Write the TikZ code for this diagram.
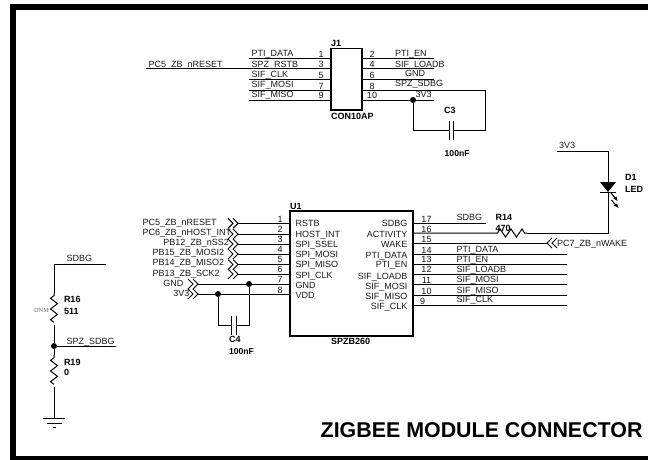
\documentclass[tikz,border=0pt]{standalone}
\usepackage{fontspec}
\setmainfont{Liberation Sans}
\newfontfamily\dnmfont{Liberation Serif}
\newcommand{\chevR}[1]{\draw[wire] (#1) ++(-10,-5) -- ++(5,5) -- ++(-5,5) ++(5,-10) -- ++(5,5) -- ++(-5,5);}
\newcommand{\chevL}[1]{\draw[wire] (#1) ++(10,-5) -- ++(-5,5) -- ++(5,5) ++(-5,-10) -- ++(-5,5) -- ++(5,5);}
\newcommand{\resV}[2]{\draw[wire] (#1) -- ++(0,#2*0.0833) -- ++(-3.5,#2*0.0833) -- ++(7,#2*0.1667) -- ++(-7,#2*0.1667) -- ++(7,#2*0.1667) -- ++(-7,#2*0.1667) -- ++(3.5,#2*0.0833);}
\tikzset{
  wire/.style={draw=black,line width=1pt,line join=miter},
  partbox/.style={draw=black,line width=1.1pt,fill=none,inner sep=0,outer sep=0},
  nt/.style={anchor=base west,inner sep=0,outer sep=0,font=\fontsize{9}{10}\selectfont,text=black!90},
  ntr/.style={nt,anchor=base east},
  nb/.style={anchor=base west,inner sep=0,outer sep=0,font=\fontsize{9}{10}\selectfont\bfseries},
  jdot/.style={circle,fill=black,inner sep=0,outer sep=0,minimum size=6}
}
\begin{document}
\begin{tikzpicture}[x=1pt,y=-1pt]
\useasboundingbox (0,0) rectangle (648,460);
\fill[white] (0,0) rectangle (648,460);
% frame
\fill[black] (10,4) rectangle (648,10);
\fill[black] (10,4) rectangle (16,460);
\fill[black] (10,456) rectangle (648,460);
\node[anchor=base west,inner sep=0,font=\fontsize{21.4}{24}\selectfont\bfseries] (title) at (320.5,437) {ZIGBEE MODULE CONNECTOR};

% J1
\node[partbox,minimum width=31,minimum height=61.5] (J1) at (346.5,79.25) {};
\node[nb] (J1ref) at (331,46.7) {J1};
\node[nb] (J1val) at (331,119) {CON10AP};
\coordinate (netPC5) at (146,69);
\foreach \n/\y in {1/59,3/69,5/79.5,7/90,9/100}{
  \coordinate (jl\n) at (249,\y);
  \draw[wire] (jl\n) -- (jl\n -| J1.west);
  \node[nt,anchor=base] (jn\n) at (321,\y-1) {\n};
}
\draw[wire] (netPC5) -- (jl3);
\foreach \n/\y in {2/59,4/69,6/79.5,10/100}{
  \coordinate (jr\n) at (434,\y);
  \draw[wire] (J1.east |- jr\n) -- (jr\n);
}
\foreach \n/\y in {2/59,4/69,6/79.5,8/90}{\node[nt,anchor=base] (jm\n) at (372,\y-1) {\n};}
\node[nt,anchor=base] (jm10) at (372,99) {10};
\node[nt] (t1) at (148.7,67) {PC5\_ZB\_nRESET};
\node[nt] (t2) at (251.7,56.7) {PTI\_DATA};
\node[nt] (t3) at (251.7,67) {SPZ\_RSTB};
\node[nt] (t4) at (251.7,77.3) {SIF\_CLK};
\node[nt] (t5) at (251.7,87.3) {SIF\_MOSI};
\node[nt] (t6) at (251.7,97.7) {SIF\_MISO};
\node[nt] (t7) at (395,56.7) {PTI\_EN};
\node[nt] (t8) at (395,67) {SIF\_LOADB};
\node[nt] (t9) at (405,77) {GND};
\node[nt] (t10) at (395,87) {SPZ\_SDBG};
\node[nt] (t11) at (415.7,98) {3V3};
% C3
\node[jdot] (j3) at (413,100) {};
\coordinate (c3a) at (449,130);
\coordinate (c3b) at (453,130);
\coordinate (c3r) at (485,130);
\coordinate (c3t) at (485,90);
\draw[wire] (j3) |- (c3a);
\draw[wire] (c3b) -- (c3r) -- (c3t) -- (J1.east |- c3t);
\draw[wire] (449,121) -- (449,140);
\draw[wire] (453,121) -- (453,140);
\node[nb] (C3ref) at (444,113.3) {C3};
\node[nb,font=\fontsize{8.6}{10}\selectfont\bfseries] (C3val) at (444.7,156) {100nF};

% U1
\node[partbox,minimum width=123,minimum height=125] (U1) at (351.5,273.5) {};
\node[nb] (U1ref) at (290,209) {U1};
\node[nb] (U1val) at (331,344) {SPZB260};
\foreach \n/\y/\w/\b in {1/223.3/222.7/226.7,2/234/232.3/237.7,3/244/242.3/247.7,4/254/252.7/257.7,5/264.5/262.3/267.7,6/274/272.7/278.7}{
  \coordinate (ul\n) at (238,\y);
  \chevR{ul\n}
  \draw[wire] (ul\n) -- (ul\n -| U1.west);
  \node[nt,anchor=base] (un\n) at (280,\w) {\n};
}
\coordinate (ul7) at (198,284);
\coordinate (ul8) at (198,294);
\chevR{ul7}\chevR{ul8}
\draw[wire] (ul7) -- (ul7 -| U1.west);
\draw[wire] (ul8) -- (ul8 -| U1.west);
\node[nt,anchor=base] (un7) at (280,282.7) {7};
\node[nt,anchor=base] (un8) at (280,293.3) {8};
\node[nt] (l1) at (142.7,225) {PC5\_ZB\_nRESET};
\node[nt] (l2) at (142.7,235.3) {PC6\_ZB\_nHOST\_INT};
\node[nt] (l3) at (163.3,245) {PB12\_ZB\_nSS2};
\node[nt] (l4) at (152.7,255.3) {PB15\_ZB\_MOSI2};
\node[nt] (l5) at (152.7,265.3) {PB14\_ZB\_MISO2};
\node[nt] (l6) at (152.7,276) {PB13\_ZB\_SCK2};
\node[nt] (l7) at (163.3,286.7) {GND};
\node[nt] (l8) at (173.3,296.7) {3V3};
\node[nt] (p1) at (295.7,226.7) {RSTB};
\node[nt] (p2) at (295.7,237.7) {HOST\_INT};
\node[nt] (p3) at (295.7,247.7) {SPI\_SSEL};
\node[nt] (p4) at (295.7,257.7) {SPI\_MOSI};
\node[nt] (p5) at (295.7,267.7) {SPI\_MISO};
\node[nt] (p6) at (295.7,278.7) {SPI\_CLK};
\node[nt] (p7) at (295.7,288.7) {GND};
\node[nt] (p8) at (295.7,298.7) {VDD};
\node[ntr] (q1) at (407.3,226.7) {SDBG};
\node[ntr] (q2) at (407.3,237.3) {ACTIVITY};
\node[ntr] (q3) at (407.3,247.7) {WAKE};
\node[ntr] (q4) at (407.3,258) {PTI\_DATA};
\node[ntr] (q5) at (407.3,267.7) {PTI\_EN};
\node[ntr] (q6) at (407.3,279) {SIF\_LOADB};
\node[ntr] (q7) at (407.3,289) {SIF\_MOSI};
\node[ntr] (q8) at (407.3,299) {SIF\_MISO};
\node[ntr] (q9) at (407.3,309) {SIF\_CLK};
% C4
\node[jdot] (j7) at (249,284) {};
\node[jdot] (j8) at (218,294) {};
\coordinate (c4a) at (231,325);
\coordinate (c4b) at (236,325);
\draw[wire] (j8) |- (c4a);
\draw[wire] (j7) |- (c4b);
\draw[wire] (231,316) -- (231,335);
\draw[wire] (236,316) -- (236,335);
\node[nb] (C4ref) at (229,342.7) {C4};
\node[nb,font=\fontsize{8.6}{10}\selectfont\bfseries] (C4val) at (229,354) {100nF};

% right side of U1
\foreach \n/\y/\w in {14/254/253,13/264/262.7,12/274/272.7,11/284/283.3,10/295/294}{
  \coordinate (ur\n) at (567,\y);
  \draw[wire] (U1.east |- ur\n) -- (ur\n);
  \node[nt,anchor=base] (um\n) at (426.5,\w) {\n};
}
\coordinate (ur9) at (567,305);
\draw[wire] (U1.east |- ur9) -- (ur9);
\node[nt,anchor=base] (um9) at (422.7,304) {9};
\coordinate (ur17) at (486,223);
\draw[wire] (U1.east |- ur17) -- (ur17);
\node[nt,anchor=base] (um17) at (426.5,222.7) {17};
\node[nt,anchor=base] (um16) at (426.5,232.7) {16};
\node[nt,anchor=base] (um15) at (426.5,242.7) {15};
\coordinate (ur15) at (547,243);
\draw[wire] (U1.east |- ur15) -- (ur15);
\chevL{ur15}
\node[nt] (PC7) at (557,246) {PC7\_ZB\_nWAKE};
\node[nt] (n17) at (456.7,220.7) {SDBG};
\node[nt] (n14) at (456.7,252) {PTI\_DATA};
\node[nt] (n13) at (456.7,262) {PTI\_EN};
\node[nt] (n12) at (456.7,272.3) {SIF\_LOADB};
\node[nt] (n11) at (456.7,282.3) {SIF\_MOSI};
\node[nt] (n10) at (456.7,293) {SIF\_MISO};
\node[nt] (n9) at (456.7,302.7) {SIF\_CLK};
% R14 and LED
\coordinate (r14a) at (495,233);
\coordinate (r14b) at (527,233);
\coordinate (ledk) at (608,192);
\coordinate (leda) at (608,182);
\coordinate (top3) at (608,151);
\coordinate (net3) at (557,151);
\draw[wire] (U1.east |- r14a) -- (r14a) -- ++(2.5,0) -- ++(2.5,-4) -- ++(5.5,8) -- ++(5.5,-8) -- ++(5.5,8) -- ++(5.5,-8) -- ++(2.5,4) -- (r14b);
\draw[wire] (r14b) -| (ledk);
\draw[wire] (leda) -- (top3) -- (net3);
\fill[black] (600,182) -- (616,182) -- (608,192) -- cycle;
\draw[wire] (600,192.5) -- (616,192.5);
\draw[black,line width=1.1pt] (611,193) -- (615.5,198.5);
\fill[black] (617.5,201) -- (613.5,198.5) -- (616.5,196.5) -- cycle;
\draw[black,line width=1.1pt] (611.5,200) -- (616,205.5);
\fill[black] (618.5,208) -- (614,205.5) -- (617,203.5) -- cycle;
\node[nb] (R14ref) at (495.7,220.7) {R14};
\node[nb] (R14val) at (495.7,231) {470};
\node[nb] (D1ref) at (625,180) {D1};
\node[nb] (D1val) at (625,192) {LED};
\node[nt] (t3v3) at (559,148.7) {3V3};

% left resistors
\coordinate (sdbgE) at (106,264);
\coordinate (sdbgC) at (54,264);
\coordinate (r16a) at (54,293);
\coordinate (r16b) at (54,325);
\node[jdot] (j16) at (54,346) {};
\coordinate (spzE) at (116,346);
\coordinate (r19a) at (54,355);
\coordinate (r19b) at (54,387);
\coordinate (gnd) at (54,418);
\draw[wire] (sdbgE) -- (sdbgC) -- (r16a);
\resV{r16a}{32}
\draw[wire] (r16b) -- (j16);
\draw[wire] (j16) -- (spzE);
\draw[wire] (j16) -- (r19a);
\resV{r19a}{32}
\draw[wire] (r19b) -- (gnd);
\draw[wire] (43,418) -- (65,418);
\draw[wire] (47,423) -- (62,423);
\draw[wire] (52.5,427.5) -- (56,427.5);
\node[nt] (s1) at (66.7,261.7) {SDBG};
\node[nt] (s2) at (66.7,344) {SPZ\_SDBG};
\node[nb] (R16ref) at (64,302.7) {R16};
\node[nb] (R16val) at (64,314) {511};
\node[nb] (R19ref) at (64,365) {R19};
\node[nb] (R19val) at (64,375) {0};
\node[anchor=base west,inner sep=0,text=black!60,font=\dnmfont\fontsize{6.3}{7}\selectfont] (dnm) at (34,312) {DNM};
\end{tikzpicture}
\end{document}
